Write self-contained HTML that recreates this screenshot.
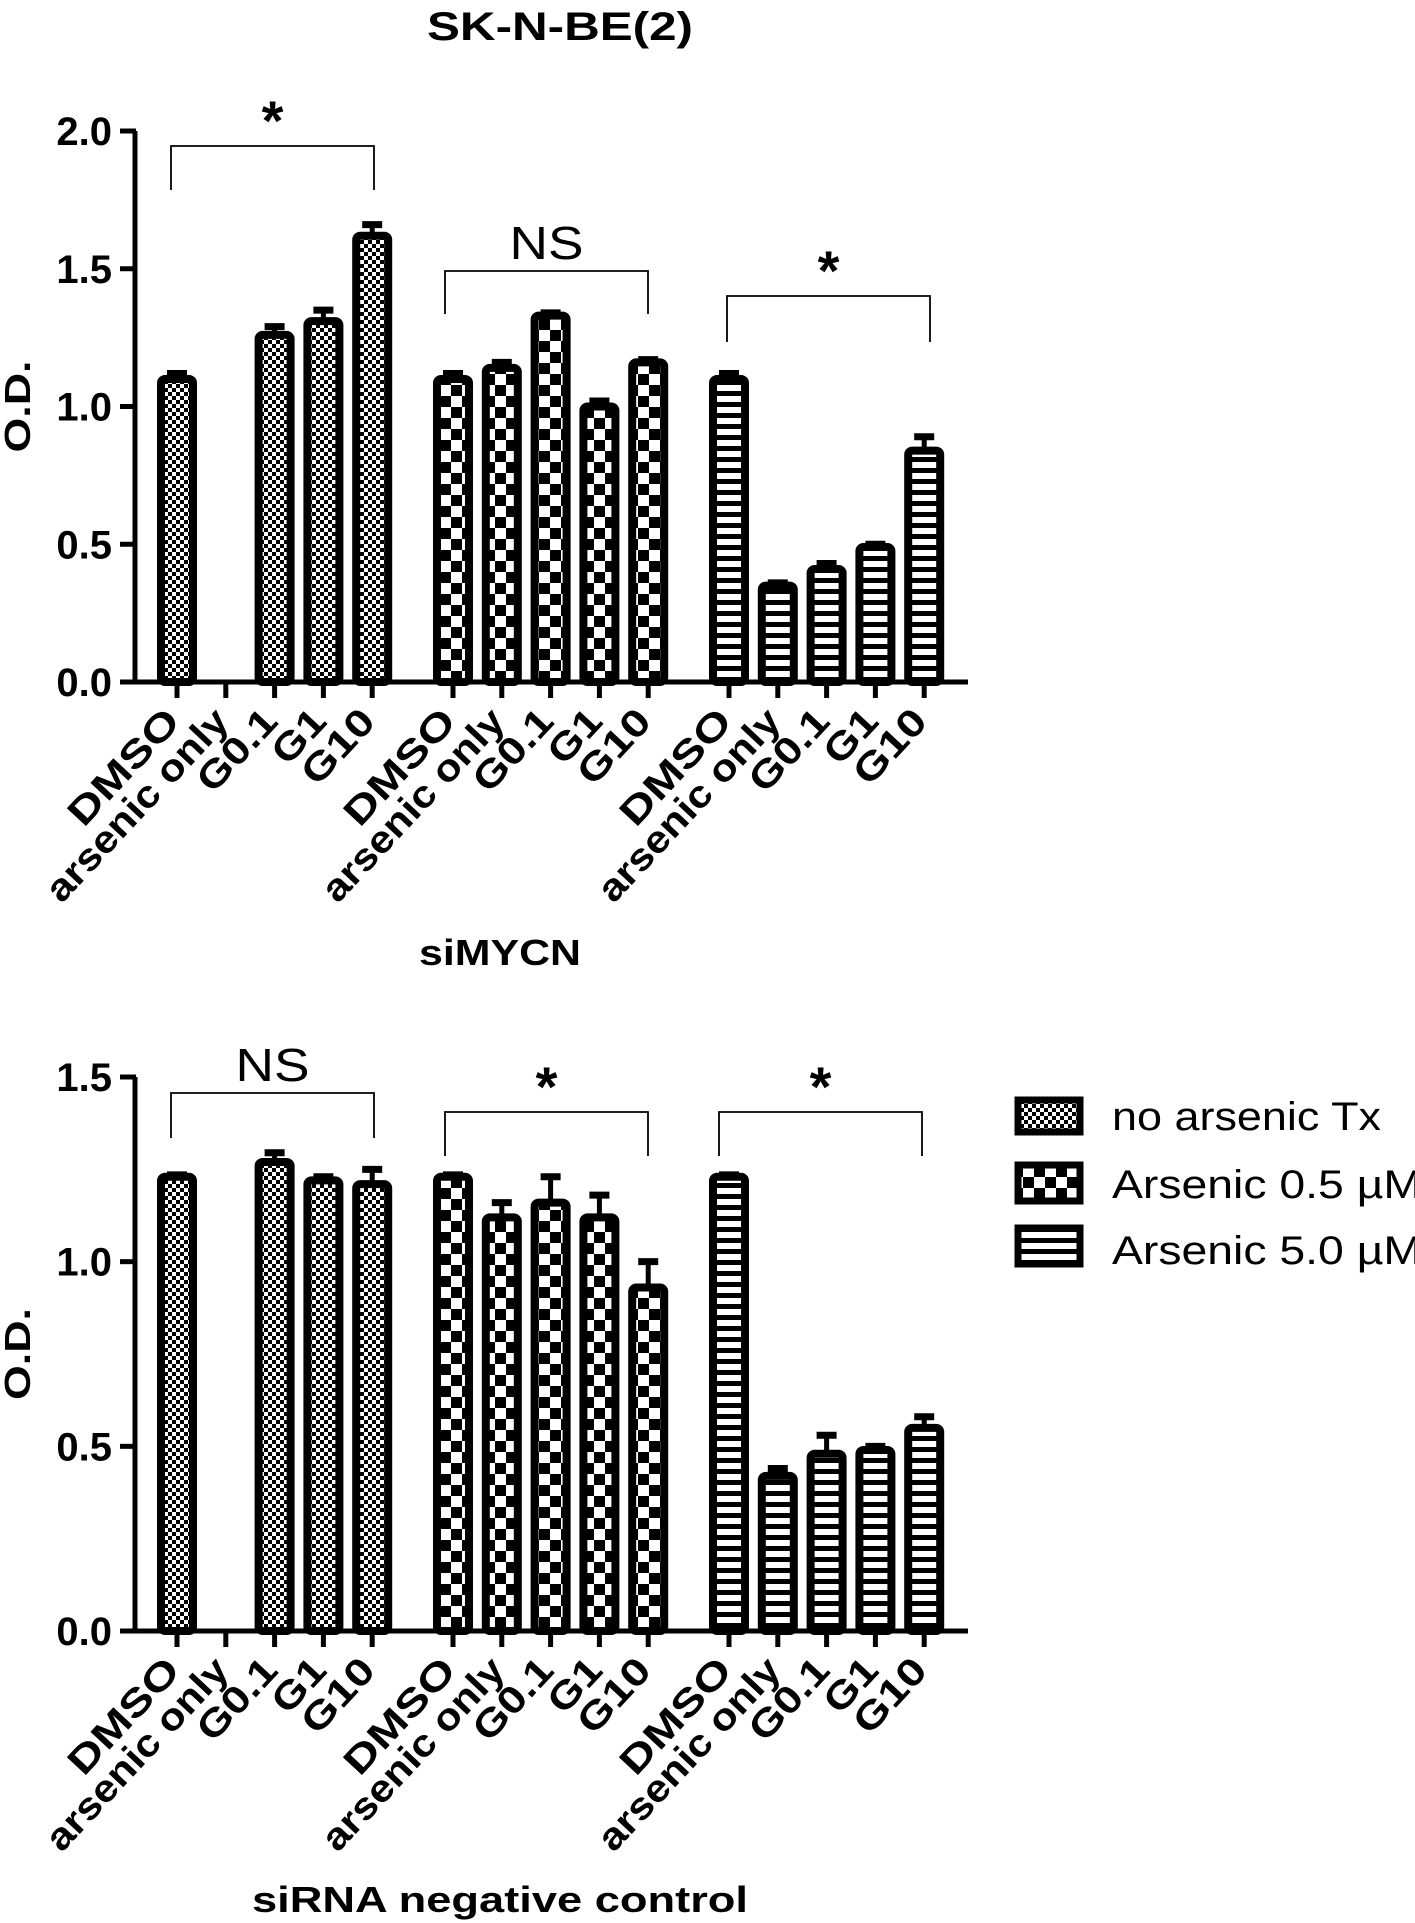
<!DOCTYPE html>
<html><head><meta charset="utf-8"><style>
html,body{margin:0;padding:0;background:#fff;}
svg{display:block;}
text{font-family:"Liberation Sans",Arial,sans-serif;fill:#000;}
</style></head><body>
<svg id="chart" width="1415" height="1923" viewBox="0 0 1415 1923" xmlns="http://www.w3.org/2000/svg">
<defs>
<pattern id="pFine" patternUnits="userSpaceOnUse" width="8" height="8"><rect width="8" height="8" fill="#fff"/><rect width="4" height="4" fill="#000"/><rect x="4" y="4" width="4" height="4" fill="#000"/></pattern>
<pattern id="pCoarse" patternUnits="userSpaceOnUse" width="22" height="22"><rect width="22" height="22" fill="#fff"/><rect width="11" height="11" fill="#000"/><rect x="11" y="11" width="11" height="11" fill="#000"/></pattern>
<pattern id="pStripe" patternUnits="userSpaceOnUse" width="11" height="11"><rect width="11" height="11" fill="#fff"/><rect y="6" width="11" height="5" fill="#000"/></pattern>
</defs>
<text x="560" y="40" text-anchor="middle" font-size="40" font-weight="bold" textLength="266" lengthAdjust="spacingAndGlyphs">SK-N-BE(2)</text>
<g id="top"></g>
<g id="bot"></g>
<g>
 <g><rect x="1018" y="1100" width="62" height="32" fill="url(#pFine)" stroke="#000" stroke-width="7"/><text x="1112" y="1130" font-size="40" textLength="269" lengthAdjust="spacingAndGlyphs">no arsenic Tx</text></g>
 <g><rect x="1018" y="1165" width="62" height="36" fill="url(#pCoarse)" stroke="#000" stroke-width="7"/><text x="1112" y="1198" font-size="40" textLength="310" lengthAdjust="spacingAndGlyphs">Arsenic 0.5 µM</text></g>
 <g><rect x="1018" y="1228" width="62" height="36" fill="url(#pStripe)" stroke="#000" stroke-width="7"/><text x="1112" y="1264" font-size="40" textLength="310" lengthAdjust="spacingAndGlyphs">Arsenic 5.0 µM</text></g>
</g>
</svg>
<script>
var categories = ["DMSO","arsenic only","G0.1","G1","G10"];
var groupNames = ["no arsenic Tx","Arsenic 0.5 µM","Arsenic 5.0 µM"];
var topValues = [[1.10,null,1.26,1.31,1.62],[1.10,1.14,1.33,1.00,1.16],[1.10,0.35,0.41,0.49,0.84]];
var topErrors = [[0.02,null,0.03,0.04,0.04],[0.02,0.02,0.01,0.02,0.01],[0.02,0.01,0.02,0.01,0.05]];
var botValues = [[1.23,null,1.27,1.22,1.21],[1.23,1.12,1.16,1.12,0.93],[1.23,0.42,0.48,0.49,0.55]];
var botErrors = [[0.005,null,0.025,0.01,0.04],[0.005,0.04,0.07,0.06,0.07],[0.005,0.02,0.05,0.01,0.03]];
var topTicks = ["0.0","0.5","1.0","1.5","2.0"];
var botTicks = ["0.0","0.5","1.0","1.5"];
var topSig = ["*","NS","*"];
var botSig = ["NS","*","*"];
var labelLens = [144,248,98,60,88];

var NS='http://www.w3.org/2000/svg';
var fills=['url(#pFine)','url(#pCoarse)','url(#pStripe)'];
function mk(tag,attrs,parent){var e=document.createElementNS(NS,tag);for(var k in attrs)e.setAttribute(k,attrs[k]);parent.appendChild(e);return e;}
function xPos(g,i){return 177+g*276+i*48.8;}

function panel(root,values,errors,ticks,sig,y0,y1,vmax,axisTitle,titleY,titleLen,br){
  function yS(v){return y0-(v/vmax)*(y0-y1);}
  var yA=mk('line',{x1:135,y1:yS(0),x2:135,y2:yS(vmax),stroke:'#000','stroke-width':5},root);
  
  
  var xA=mk('line',{x1:132,y1:y0,x2:968,y2:y0,stroke:'#000','stroke-width':5},root);
  
  
  ticks.forEach(function(t){
    var v=parseFloat(t),y=yS(v);
    var tl=mk('line',{x1:120,y1:y,x2:136,y2:y,stroke:'#000','stroke-width':5},root);
    
    
    var tx=mk('text',{x:112,y:y+14,'text-anchor':'end','font-size':40,'font-weight':'bold'},root);
    tx.textContent=t;
    
    
  });
  var yt=mk('text',{transform:'translate(30,'+((y0+y1)/2)+') rotate(-90)','text-anchor':'middle','font-size':36,'font-weight':'bold',textLength:92,lengthAdjust:'spacingAndGlyphs'},root);
  yt.textContent='O.D.';
  
  
  for(var g=0;g<3;g++){
    for(var i=0;i<5;i++){
      var cx=xPos(g,i);
      var tk=mk('line',{x1:cx,y1:y0,x2:cx,y2:y0+16,stroke:'#000','stroke-width':5},root);
      
      
      var lb=mk('text',{transform:'translate('+(cx+5)+','+(y0+41)+') rotate(-47)','text-anchor':'end','font-size':38,'font-weight':'bold',textLength:labelLens[i],lengthAdjust:'spacingAndGlyphs'},root);
      lb.textContent=categories[i];
      
      
      var v=values[g][i];
      if(v==null)continue;
      var e=errors[g][i],yt2=yS(v);
      var el=mk('line',{x1:cx,y1:yt2,x2:cx,y2:yS(v+e)-2,stroke:'#000','stroke-width':5},root);
      
      
      var cap=mk('line',{x1:cx-10,y1:yS(v+e),x2:cx+10,y2:yS(v+e),stroke:'#000','stroke-width':7},root);
      
      
      var r=mk('rect',{x:cx-16,y:yt2,width:32,height:y0-yt2,fill:fills[g],stroke:'#000','stroke-width':8,rx:4},root);
      
      
    }
    var b=br[g];
    var p=mk('path',{d:'M'+b[0]+' '+b[3]+' V'+b[2]+' H'+b[1]+' V'+b[4],fill:'none',stroke:'#000','stroke-width':1.8},root);
    
    
    var s=sig[g];
    var st=mk('text',{x:(b[0]+b[1])/2,y:s=='*'?b[2]-6:b[2]-12,'text-anchor':'middle','font-size':s=='*'?56:46,'font-weight':s=='*'?'bold':'normal'},root);
    if(s!='*'){st.setAttribute('textLength',74);st.setAttribute('lengthAdjust','spacingAndGlyphs');}
    st.textContent=s;
    
    
  }
  var at=mk('text',{x:500,y:titleY,'text-anchor':'middle','font-size':36,'font-weight':'bold',textLength:titleLen,lengthAdjust:'spacingAndGlyphs'},root);
  at.textContent=axisTitle;
  
  
}
panel(document.getElementById('top'),topValues,topErrors,topTicks,topSig,682,131,2.0,'siMYCN',965,162,
  [[171,374,146,190,190],[445,648,271,314,314],[727,930,296,342,342]]);
panel(document.getElementById('bot'),botValues,botErrors,botTicks,botSig,1631,1077,1.5,'siRNA negative control',1912,496,
  [[171,374,1093,1138,1138],[445,648,1112,1156,1156],[719,922,1112,1156,1156]]);
</script>
</body></html>
